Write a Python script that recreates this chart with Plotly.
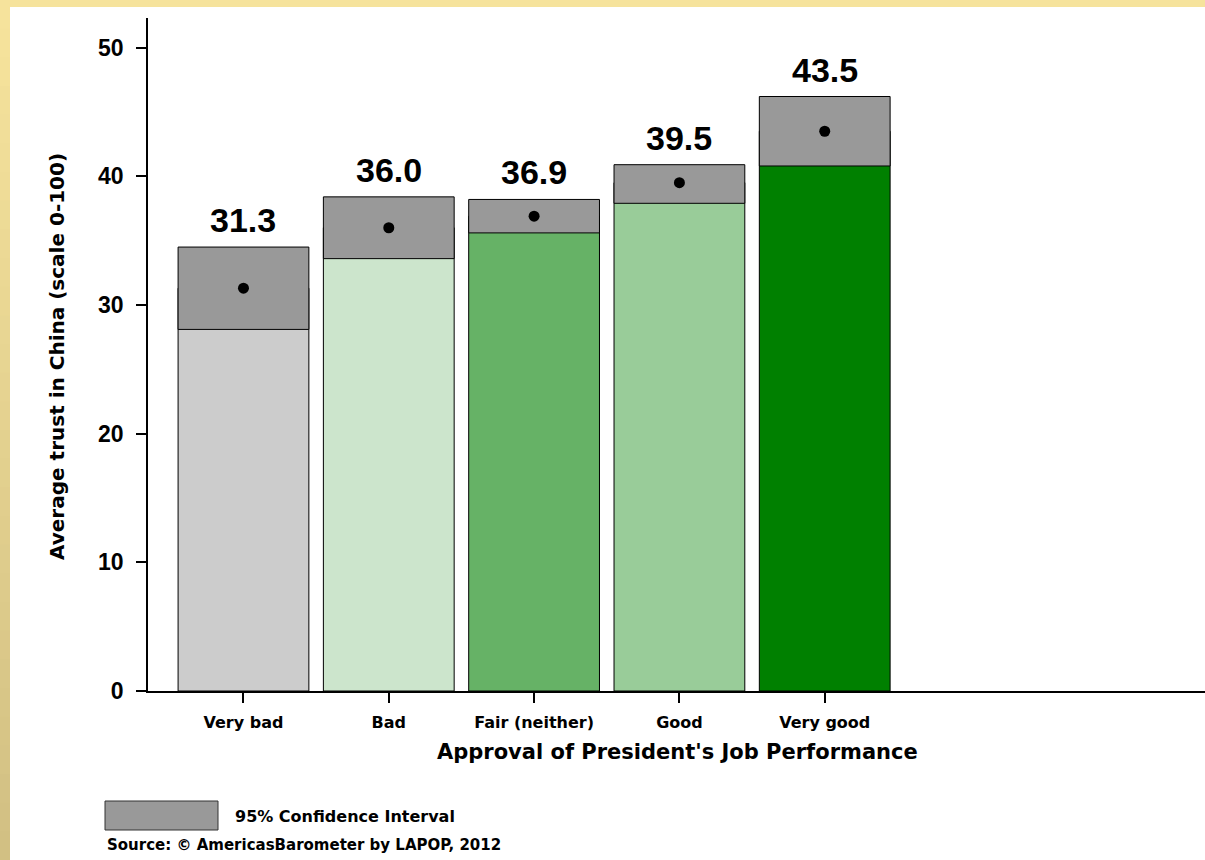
import plotly.graph_objects as go

categories = ["Very bad", "Bad", "Fair (neither)", "Good", "Very good"]
means = [31.3, 36.0, 36.9, 39.5, 43.5]
ci_low = [28.1, 33.6, 35.6, 37.9, 40.8]
ci_high = [34.5, 38.4, 38.2, 40.9, 46.2]
bar_colors = ["#CCCCCC", "#CCE5CC", "#66B266", "#99CC99", "#008000"]
y_ticks = [0, 10, 20, 30, 40, 50]

x_pos = list(range(len(categories)))
FONT_ARIAL = "Liberation Sans, Arial, sans-serif"
FONT_VERD = "DejaVu Sans, Verdana, sans-serif"

fig = go.Figure()
# main bars (0 -> mean)
fig.add_trace(go.Bar(
    x=x_pos, y=means, width=0.9,
    marker=dict(color=bar_colors, line=dict(color="black", width=1)),
    showlegend=False, hoverinfo="skip"))
# confidence interval boxes
fig.add_trace(go.Bar(
    x=x_pos, y=[h - l for h, l in zip(ci_high, ci_low)], base=ci_low, width=0.9,
    marker=dict(color="#999999", line=dict(color="black", width=1)),
    showlegend=False, hoverinfo="skip"))
# mean dots
fig.add_trace(go.Scatter(
    x=x_pos, y=means, mode="markers",
    marker=dict(color="black", size=11),
    showlegend=False, hoverinfo="skip"))

for xp, h, m in zip(x_pos, ci_high, means):
    fig.add_annotation(x=xp, y=h, text=f"<b>{m:.1f}</b>", showarrow=False,
                       yanchor="bottom", yshift=6,
                       font=dict(family=FONT_ARIAL, size=34, color="black"))

fig.update_layout(
    barmode="overlay",
    width=1205, height=860,
    margin=dict(l=148, r=0, t=18, b=169),
    paper_bgcolor="white", plot_bgcolor="white",
    xaxis=dict(
        range=[-0.657, 6.617], tickmode="array", tickvals=x_pos,
        ticktext=[f"<b>{c}</b>" for c in categories],
        ticks="outside", ticklen=10, tickcolor="black", tickwidth=1.5,
        showline=True, linecolor="black", linewidth=1.5,
        showgrid=False, zeroline=False, ticklabelstandoff=6,
        tickfont=dict(family=FONT_VERD, size=16, color="black"),
    ),
    yaxis=dict(
        range=[0, 52.3], tickmode="array", tickvals=y_ticks,
        ticktext=[f"<b>{t}</b>" for t in y_ticks],
        ticks="outside", ticklen=10, tickcolor="black", tickwidth=1.5,
        showline=True, linecolor="black", linewidth=1.5,
        showgrid=False, zeroline=False, ticklabelstandoff=8,
        tickfont=dict(family=FONT_ARIAL, size=23, color="black"),
    ),
)

W = 1057.0
H = 673.0
def px_x(p):
    return (p - 148) / W
def px_y(p):
    return (691 - p) / H

# axis titles
fig.add_annotation(xref="paper", yref="paper", x=px_x(677), y=px_y(752),
                   xanchor="center", yanchor="middle", showarrow=False,
                   text="<b>Approval of President's Job Performance</b>",
                   font=dict(family=FONT_VERD, size=21, color="black"))
fig.add_annotation(xref="paper", yref="paper", x=px_x(57), y=px_y(357),
                   xanchor="center", yanchor="middle", showarrow=False, textangle=-90,
                   text="<b>Average trust in China (scale 0-100)</b>",
                   font=dict(family=FONT_VERD, size=20, color="black"))

# yellow border: top strip
fig.add_shape(type="rect", xref="paper", yref="paper",
              x0=px_x(0), x1=px_x(1205), y0=px_y(7), y1=px_y(0),
              fillcolor="#F6E39C", line=dict(width=0), layer="above")
# left strip with vertical gradient
n = 30
top_c = (0xF6, 0xE3, 0x9C)
bot_c = (0xD2, 0xC0, 0x83)
for i in range(n):
    t = i / (n - 1)
    c = tuple(int(round(a + (b - a) * t)) for a, b in zip(top_c, bot_c))
    y0p = 860 * i / n
    y1p = 860 * (i + 1) / n + 1
    fig.add_shape(type="rect", xref="paper", yref="paper",
                  x0=px_x(0), x1=px_x(10), y0=px_y(y1p), y1=px_y(y0p),
                  fillcolor="rgb(%d,%d,%d)" % c, line=dict(width=0), layer="above")

# legend box for CI
fig.add_shape(type="rect", xref="paper", yref="paper",
              x0=px_x(105), x1=px_x(218), y0=px_y(830), y1=px_y(801),
              fillcolor="#999999", line=dict(color="#333333", width=1))
fig.add_annotation(xref="paper", yref="paper", x=px_x(233), y=px_y(816),
                   xanchor="left", yanchor="middle", showarrow=False,
                   text="<b>95% Confidence Interval</b>",
                   font=dict(family=FONT_VERD, size=16, color="black"))
fig.add_annotation(xref="paper", yref="paper", x=px_x(105), y=px_y(845),
                   xanchor="left", yanchor="middle", showarrow=False,
                   text="<b>Source: © AmericasBarometer by LAPOP, 2012</b>",
                   font=dict(family=FONT_VERD, size=15, color="black"))

fig.write_html("out.html", config={"displayModeBar": False},
               post_script="document.body.style.margin='0';document.body.style.overflow='hidden';")
